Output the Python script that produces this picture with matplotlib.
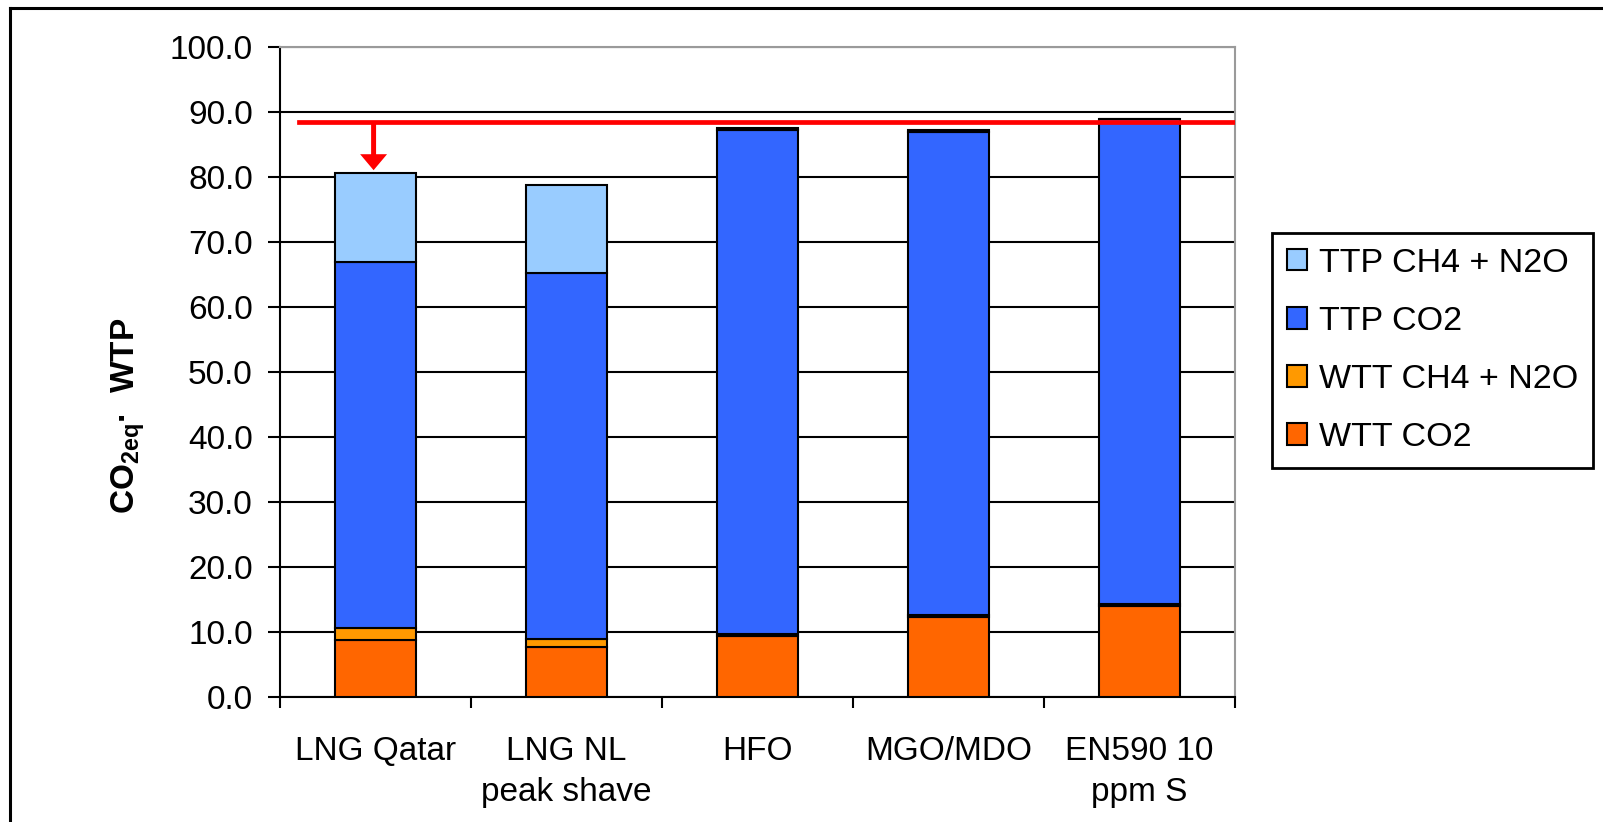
import matplotlib
matplotlib.use("Agg")
import matplotlib.pyplot as plt
import numpy as np
from matplotlib.lines import Line2D
from matplotlib.patches import Patch

plt.rcParams['font.family'] = ['Liberation Sans', 'DejaVu Sans']

# Fuel pathways and their emission contributions (stacked bottom to top)
categories = ["LNG Qatar", "LNG NL\npeak shave", "HFO", "MGO/MDO", "EN590 10\nppm S"]
wtt_co2 = [8.8, 7.6, 9.35, 12.2, 13.9]
wtt_ch4_n2o = [1.7, 1.3, 0.3, 0.3, 0.3]
ttp_co2 = [56.4, 56.3, 77.5, 74.35, 74.7]
ttp_ch4_n2o = [13.6, 13.5, 0.35, 0.35, 0.05]
reference_level = 88.4

series = [
    ("WTT CO2", wtt_co2, "#FF6600"),
    ("WTT CH4 + N2O", wtt_ch4_n2o, "#FF9900"),
    ("TTP CO2", ttp_co2, "#3366FF"),
    ("TTP CH4 + N2O", ttp_ch4_n2o, "#99CCFF"),
]

W, H = 1603, 822
fig = plt.figure(figsize=(W / 100, H / 100), dpi=100)
ax = fig.add_axes([280 / W, 1 - 696.7 / H, (1235 - 280) / W, (696.7 - 46.7) / H])

x = np.arange(len(categories))
bottom = np.zeros(len(categories))
handles = []
for name, vals, color in series:
    vals = np.array(vals, dtype=float)
    ax.bar(x, vals, bottom=bottom, width=0.42, color=color,
           edgecolor="black", linewidth=1.5, zorder=3)
    bottom += vals
    handles.append(Patch(facecolor=color, edgecolor="black", linewidth=1.5, label=name))

totals = bottom.copy()

ax.set_xlim(-0.5, len(categories) - 0.5)
ax.set_ylim(0, 100)
ax.set_yticks(np.arange(0, 101, 10))
ax.set_yticklabels([f"{v:.1f}" for v in np.arange(0, 101, 10)])
ax.set_xticks(x)
ax.set_xticklabels(categories, linespacing=1.45)
ax.set_xticks(np.arange(-0.5, len(categories), 1.0), minor=True)
ax.tick_params(axis="x", which="major", length=0, pad=28, labelsize=24)
ax.tick_params(axis="x", which="minor", direction="out", length=8, width=1.5, color="black")
ax.tick_params(axis="y", direction="out", length=8.6, width=1.5, pad=11, labelsize=24)

ax.yaxis.grid(True, color="black", linewidth=1.5, zorder=0)
ax.set_axisbelow(True)
for side in ("left", "bottom"):
    ax.spines[side].set_color("black")
    ax.spines[side].set_linewidth(1.5)
for side in ("top", "right"):
    ax.spines[side].set_color("#9a9a9a")
    ax.spines[side].set_linewidth(1.5)

# Reference level and arrow down to the LNG Qatar total
ax.axhline(reference_level, xmin=0.02, xmax=1.0, color="#FF0000", linewidth=3.4, zorder=5)
tip = totals[0] + 0.5
ax.arrow(x[0] - 0.01, reference_level, 0, tip - reference_level,
         width=0.026, head_width=0.141, head_length=2.46,
         length_includes_head=True, color="#FF0000", zorder=5, linewidth=0)

fig.text(128 / W, 1 - 416 / H, "CO$_\\mathregular{2eq}$·  WTP", rotation=90,
         ha="center", va="center", fontsize=24, fontweight="bold")

leg = fig.legend(handles=handles[::-1], loc="upper left",
                 bbox_to_anchor=(1272 / W, 1 - 233 / H), bbox_transform=fig.transFigure,
                 fontsize=24.5, frameon=True, fancybox=False, edgecolor="black",
                 framealpha=1, handlelength=0.6, handleheight=0.6,
                 handletextpad=0.36, labelspacing=0.8, borderpad=0.43, borderaxespad=0)
leg.get_frame().set_linewidth(2)

# Outer frame edges
fig.add_artist(Line2D([10 / W, 10 / W], [0, 1 - 8 / H], color="black", linewidth=2.2,
                      transform=fig.transFigure))
fig.add_artist(Line2D([10 / W, 1], [1 - 8 / H, 1 - 8 / H], color="black", linewidth=2.2,
                      transform=fig.transFigure))

fig.savefig("out.png", dpi=100)
